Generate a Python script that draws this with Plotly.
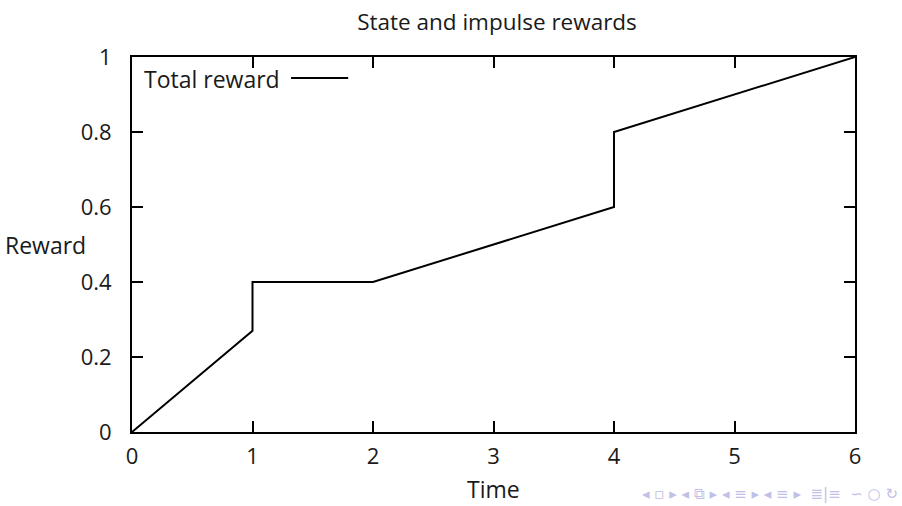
import plotly.graph_objects as go

# Cumulative reward: linear state reward plus impulse jumps at t=1 and t=4
time = [0, 1, 1, 2, 4, 4, 6]
reward = [0, 0.27, 0.4, 0.4, 0.6, 0.8, 1.0]

x_ticks = [0, 1, 2, 3, 4, 5, 6]
y_ticks = [0, 0.2, 0.4, 0.6, 0.8, 1]
y_tick_text = ["0", "0.2", "0.4", "0.6", "0.8", "1"]

FONT = "Open Sans, DejaVu Sans, sans-serif"
TXT = "#1a1a1a"

fig = go.Figure()
fig.add_trace(go.Scatter(
    x=time, y=reward, mode="lines",
    line=dict(color="black", width=2),
    name="Total reward", showlegend=False,
))

axis_common = dict(
    showline=True, linecolor="black", linewidth=2, mirror="ticks",
    ticks="inside", ticklen=11, tickwidth=2, tickcolor="black",
    showgrid=False, zeroline=False,
    tickfont=dict(family=FONT, size=22, color=TXT),
)

fig.update_layout(
    width=902, height=506,
    margin=dict(l=132, r=47, t=57, b=74),
    paper_bgcolor="white", plot_bgcolor="white",
    title=dict(text="State and impulse rewards", x=0.551, xanchor="center",
               y=0.957, yanchor="middle",
               font=dict(family=FONT, size=22.5, color=TXT)),
    xaxis=dict(range=[0, 6], tickvals=x_ticks, ticklabelstandoff=4,
               **axis_common),
    yaxis=dict(range=[0, 1], tickvals=y_ticks, ticktext=y_tick_text,
               ticklabelstandoff=14, **axis_common),
)

# Axis titles (horizontal y label, as in gnuplot output)
fig.add_annotation(text="Time", xref="paper", yref="paper", x=0.5,
                   y=-0.153, yanchor="middle", xanchor="center",
                   showarrow=False,
                   font=dict(family=FONT, size=23, color=TXT))
fig.add_annotation(text="Reward", xref="paper", yref="paper", x=-0.061,
                   y=0.5, xanchor="right", yanchor="middle", showarrow=False,
                   font=dict(family=FONT, size=23, color=TXT))

# Key: label followed by a line sample, gnuplot style
fig.add_annotation(text="Total reward", xref="paper", yref="paper",
                   x=0.014, y=0.941, xanchor="left", yanchor="middle",
                   showarrow=False,
                   font=dict(family=FONT, size=23, color=TXT))
fig.add_shape(type="line", xref="paper", yref="paper",
              x0=0.220, x1=0.299, y0=0.944, y1=0.944,
              line=dict(color="black", width=2))

# Beamer navigation symbols
fig.add_annotation(text="◂ ▫ ▸ ◂ ⧉ ▸ ◂ ≡ ▸ ◂ ≡ ▸  ≣|≡  ∽ ○ ↻",
                   xref="paper", yref="paper", x=1.062, y=-0.165,
                   xanchor="right", yanchor="middle", showarrow=False,
                   font=dict(family="DejaVu Sans", size=15, color="#c0c0e8"))

fig.write_html("out.html")
